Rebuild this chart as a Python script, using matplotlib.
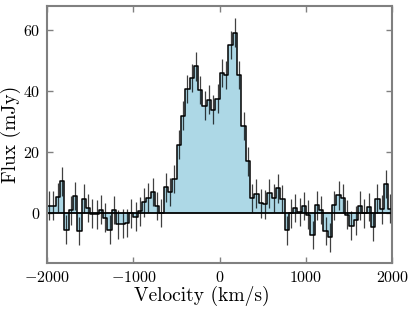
import numpy as np
import matplotlib
matplotlib.use("Agg")
import matplotlib.pyplot as plt

plt.rcParams['font.family'] = 'cmr10'
plt.rcParams['mathtext.fontset'] = 'cm'
plt.rcParams['axes.formatter.use_mathtext'] = True

# channel edges, 50 km/s wide
v_start = -2000.0
dv = 50.0
flux = [2.4, 2.4, 5.1, 10.4, -5.5, 0.8, 5.5, -6.0, 4.7, 1.6,
        -0.3, -0.5, 1.1, -1.6, -5.5, 0.9, -3.8, -3.5, -3.3, -0.2,
        -1.2, 0.5, 3.5, 5.0, 6.8, 2.2, 0.0, 8.4, 6.8, 11.1,
        22.4, 31.9, 40.7, 44.3, 48.1, 40.4, 35.2, 37.2, 33.9, 37.5,
        46.0, 45.3, 55.1, 59.2, 45.3, 28.5, 16.9, 4.9, 6.3, 3.1,
        2.8, 6.4, 4.9, 8.1, 4.5, -5.7, -0.2, 1.6, 0.3, 2.2,
        -0.6, -7.3, 2.5, 1.0, -6.0, -8.0, 2.5, 5.8, 4.8, -0.6,
        -4.2, -2.5, 2.4, -0.2, 1.9, -4.7, 4.7, 1.2, 9.5, 1.4]
flux_err = [4.7] * len(flux)

flux = np.array(flux)
n = len(flux)
edges = v_start + dv * np.arange(n + 1)
centers = 0.5 * (edges[:-1] + edges[1:])
y_step = np.append(flux, flux[-1])

fig = plt.figure(figsize=(4.16, 3.11), dpi=100)
ax = fig.add_axes([0.113, 0.154, 0.8305, 0.827])

ax.fill_between(edges, 0, y_step, step='post', color='lightblue', lw=0)
ax.errorbar(centers, flux, yerr=flux_err, fmt='none', ecolor='k', elinewidth=0.9, alpha=0.75)
ax.step(edges, y_step, where='post', color='k', lw=1.1)
ax.axhline(0, color='k', lw=1.3)

ax.set_xlim(-2000, 2000)
ax.set_ylim(-16.5, 68)
ax.set_xticks([-2000, -1000, 0, 1000, 2000])
ax.set_yticks([0, 20, 40, 60])

for s in ax.spines.values():
    s.set_color('gray')
    s.set_linewidth(1.5)
ax.tick_params(direction='in', length=4, width=1, color='gray',
               top=True, right=True, labelsize=11.5, pad=5)

ax.set_xlabel('Velocity (km/s)', fontsize=14)
ax.set_ylabel('Flux (mJy)', fontsize=14)
ax.xaxis.set_label_coords(0.448, -0.09)
ax.yaxis.set_label_coords(-0.075, 0.5)

fig.savefig('out.png', dpi=100)
